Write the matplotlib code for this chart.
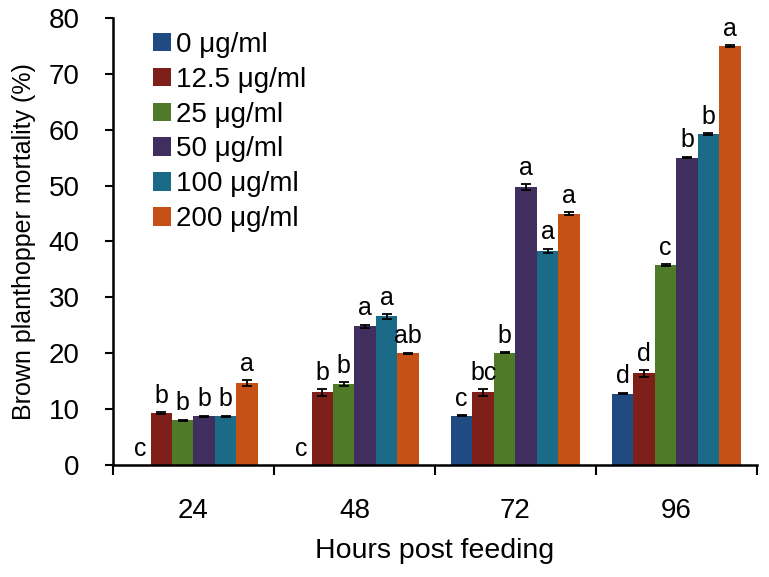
import matplotlib
matplotlib.use("Agg")
import matplotlib.pyplot as plt
import numpy as np

plt.rcParams['font.family'] = ['Liberation Sans', 'DejaVu Sans']

hours = ["24", "48", "72", "96"]
series = ["0 μg/ml", "12.5 μg/ml", "25 μg/ml", "50 μg/ml", "100 μg/ml", "200 μg/ml"]
colors = ["#1f4a82", "#7f1f1a", "#4f7a28", "#3f2e5e", "#1b6a87", "#c55117"]

vals = {
    "0 μg/ml":    [0.0, 0.0, 8.8, 12.8],
    "12.5 μg/ml": [9.3, 13.0, 13.0, 16.4],
    "25 μg/ml":   [8.0, 14.5, 20.1, 35.8],
    "50 μg/ml":   [8.7, 24.8, 49.7, 55.0],
    "100 μg/ml":  [8.7, 26.6, 38.3, 59.2],
    "200 μg/ml":  [14.7, 20.0, 45.0, 75.0],
}
errs = {
    "0 μg/ml":    [0.0, 0.0, 0.1, 0.1],
    "12.5 μg/ml": [0.15, 0.6, 0.6, 0.6],
    "25 μg/ml":   [0.1, 0.3, 0.1, 0.15],
    "50 μg/ml":   [0.1, 0.3, 0.5, 0.15],
    "100 μg/ml":  [0.15, 0.4, 0.4, 0.15],
    "200 μg/ml":  [0.5, 0.1, 0.2, 0.15],
}
letters = {
    "0 μg/ml":    ["c", "c", "c", "d"],
    "12.5 μg/ml": ["b", "b", "bc", "d"],
    "25 μg/ml":   ["b", "b", "b", "c"],
    "50 μg/ml":   ["b", "a", "a", "b"],
    "100 μg/ml":  ["b", "a", "a", "b"],
    "200 μg/ml":  ["a", "ab", "a", "a"],
}

fig = plt.figure(figsize=(7.69, 5.77), dpi=100)
ax = fig.add_axes([0.147, 0.194, 0.837, 0.775])

x = np.arange(len(hours))
n = len(series)
w = 0.8 / n
for i, s in enumerate(series):
    pos = x - 0.4 + w * (i + 0.5)
    v = np.array(vals[s])
    e = np.array(errs[s])
    ax.bar(pos, v, width=w, color=colors[i], label=s, zorder=2)
    m = v > 0
    ax.errorbar(pos[m], v[m], yerr=e[m], fmt='none', ecolor='black',
                elinewidth=1.3, capsize=3.5, capthick=1.3, zorder=3)
    for p, vv, ee, l in zip(pos, v, e, letters[s]):
        ax.text(p, vv + ee + 0.8, l, ha='center', va='bottom', fontsize=18)

ax.set_xlim(-0.5, 3.5)
ax.set_ylim(0, 80)
ax.set_yticks(np.arange(0, 81, 10))
ax.set_xticks(x)
ax.set_xticklabels(hours)
ax.set_xticks(np.arange(-0.5, 4.0, 1.0), minor=True)
ax.tick_params(axis='x', which='major', length=0, pad=24, labelsize=20)
ax.tick_params(axis='x', which='minor', length=7, width=1.5, direction='out')
ax.tick_params(axis='y', length=6, width=1.5, direction='out', labelsize=20, pad=18)
for sp in ['top', 'right']:
    ax.spines[sp].set_visible(False)
for sp in ['left', 'bottom']:
    ax.spines[sp].set_linewidth(1.8)

ax.set_ylabel("Brown planthopper mortality (%)", fontsize=18, labelpad=9)
ax.set_xlabel("Hours post feeding", fontsize=20.5, labelpad=10)

leg = ax.legend(loc='upper left', bbox_to_anchor=(0.04, 1.0), frameon=False,
                fontsize=20, handlelength=0.65, handleheight=0.65,
                handletextpad=0.2, labelspacing=0.32, borderaxespad=0.1)

fig.savefig("out.png", dpi=100)
